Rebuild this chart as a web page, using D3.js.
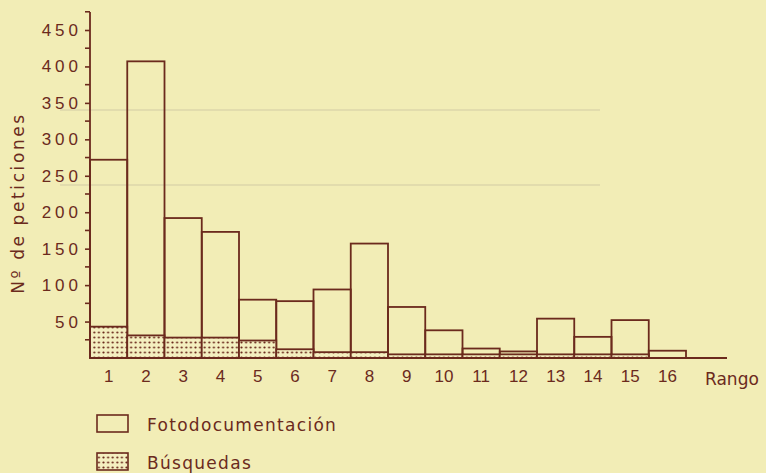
<!DOCTYPE html>
<html>
<head>
<meta charset="utf-8">
<script src="https://cdn.jsdelivr.net/npm/d3@7"></script>
<style>
  body { margin: 0; background: #f2edb6; }
  svg { display: block; font-family: "DejaVu Sans", sans-serif; }
</style>
</head>
<body>
<svg width="766" height="473"></svg>
<script>
// Rango 1..16, Nº de peticiones (total = Fotodocumentación + Búsquedas)
const rangos = ["1","2","3","4","5","6","7","8","9","10","11","12","13","14","15","16"]
const totales = [272, 407, 192, 173, 80, 78, 94, 157, 70, 38, 13, 9, 54, 29, 52, 10]
const busquedas = [43, 31, 28, 28, 24, 12, 8, 8, 5, 5, 5, 5, 5, 5, 5, 0]
const yTicks = [50, 100, 150, 200, 250, 300, 350, 400, 450]
const yMinor = [25, 75, 125, 175, 225, 275, 325, 375, 425, 475]

const ink = "#6b2a1d"
const ghost = "#e2dcad"
const svg = d3.select("svg")

// faint rules showing through the paper
svg.append("g").selectAll("line")
  .data([110, 185])
  .enter()
  .append("line")
  .attr("x1", 60).attr("x2", 600)
  .attr("y1", d => d).attr("y2", d => d)
  .attr("stroke", ghost).attr("stroke-width", 2)

let defs = svg.append("defs")
let pat = defs.append("pattern")
  .attr("id", "dots")
  .attr("patternUnits", "userSpaceOnUse")
  .attr("width", 4.6).attr("height", 5)
pat.append("rect").attr("width", 4.6).attr("height", 5).attr("fill", "#f4efc0")
pat.append("circle").attr("cx", 2.3).attr("cy", 2.5).attr("r", 1.1).attr("fill", ink)

const x = d3.scaleBand().domain(rangos).range([90, 686]).paddingInner(0)
const y = d3.scaleLinear().domain([0, 450]).range([358, 30])

// outline bars (Fotodocumentación)
svg.append("g").selectAll("rect")
  .data(totales)
  .enter()
  .append("rect")
  .attr("x", (d, i) => x(rangos[i]))
  .attr("y", d => y(d))
  .attr("width", x.bandwidth())
  .attr("height", d => y(0) - y(d))
  .attr("fill", "none")
  .attr("stroke", ink)
  .attr("stroke-width", 1.8)

// dotted part (Búsquedas)
svg.append("g").selectAll("rect")
  .data(busquedas.map((v, i) => ({ r: rangos[i], v: v })).filter(d => d.v > 0))
  .enter()
  .append("rect")
  .attr("x", d => x(d.r))
  .attr("y", d => y(d.v))
  .attr("width", x.bandwidth())
  .attr("height", d => y(0) - y(d.v))
  .attr("fill", "url(#dots)")
  .attr("stroke", ink)
  .attr("stroke-width", 1.8)

// y axis
let yAxis = svg.append("g")
  .attr("transform", "translate(90,0)")
  .call(d3.axisLeft(y).tickValues(yTicks).tickSize(5).tickPadding(3).tickFormat(d3.format("d")))
yAxis.select(".domain").remove()
yAxis.selectAll(".tick line").attr("stroke", ink).attr("stroke-width", 1.6)
yAxis.selectAll(".tick text")
  .attr("fill", ink)
  .style("font-size", "17px")
  .style("letter-spacing", "4px")

svg.append("g").selectAll("line")
  .data(yMinor)
  .enter()
  .append("line")
  .attr("x1", 85).attr("x2", 90)
  .attr("y1", d => y(d)).attr("y2", d => y(d))
  .attr("stroke", ink).attr("stroke-width", 1.6)

svg.append("line")
  .attr("x1", 90).attr("x2", 90)
  .attr("y1", 12).attr("y2", y(0))
  .attr("stroke", ink).attr("stroke-width", 1.8)

svg.append("line")
  .attr("x1", 90).attr("x2", 727)
  .attr("y1", y(0)).attr("y2", y(0))
  .attr("stroke", ink).attr("stroke-width", 1.8)

// x labels
let xAxis = svg.append("g")
  .attr("transform", "translate(0," + y(0) + ")")
  .call(d3.axisBottom(x).tickSize(0).tickPadding(12))
xAxis.select(".domain").remove()
xAxis.selectAll(".tick text")
  .attr("fill", ink)
  .style("font-size", "17px")

svg.append("text")
  .attr("x", 705).attr("y", 385)
  .attr("fill", ink)
  .style("font-size", "17px")
  .text("Rango")

svg.append("text")
  .attr("transform", "translate(24,203) rotate(-90)")
  .attr("text-anchor", "middle")
  .attr("fill", ink)
  .style("font-size", "17px")
  .style("letter-spacing", "2.6px")
  .text("Nº de peticiones")

// legend
const legend = [
  { label: "Fotodocumentación", fill: "none", y: 415 },
  { label: "Búsquedas", fill: "url(#dots)", y: 453 }
]
let lg = svg.append("g").selectAll("g")
  .data(legend)
  .enter()
  .append("g")
lg.append("rect")
  .attr("x", 97).attr("y", d => d.y)
  .attr("width", 31).attr("height", 17)
  .attr("fill", d => d.fill)
  .attr("stroke", ink).attr("stroke-width", 1.6)
lg.append("text")
  .attr("x", 147).attr("y", d => d.y + 16)
  .attr("fill", ink)
  .style("font-size", "17px")
  .style("letter-spacing", "1.3px")
  .text(d => d.label)
</script>
</body>
</html>
